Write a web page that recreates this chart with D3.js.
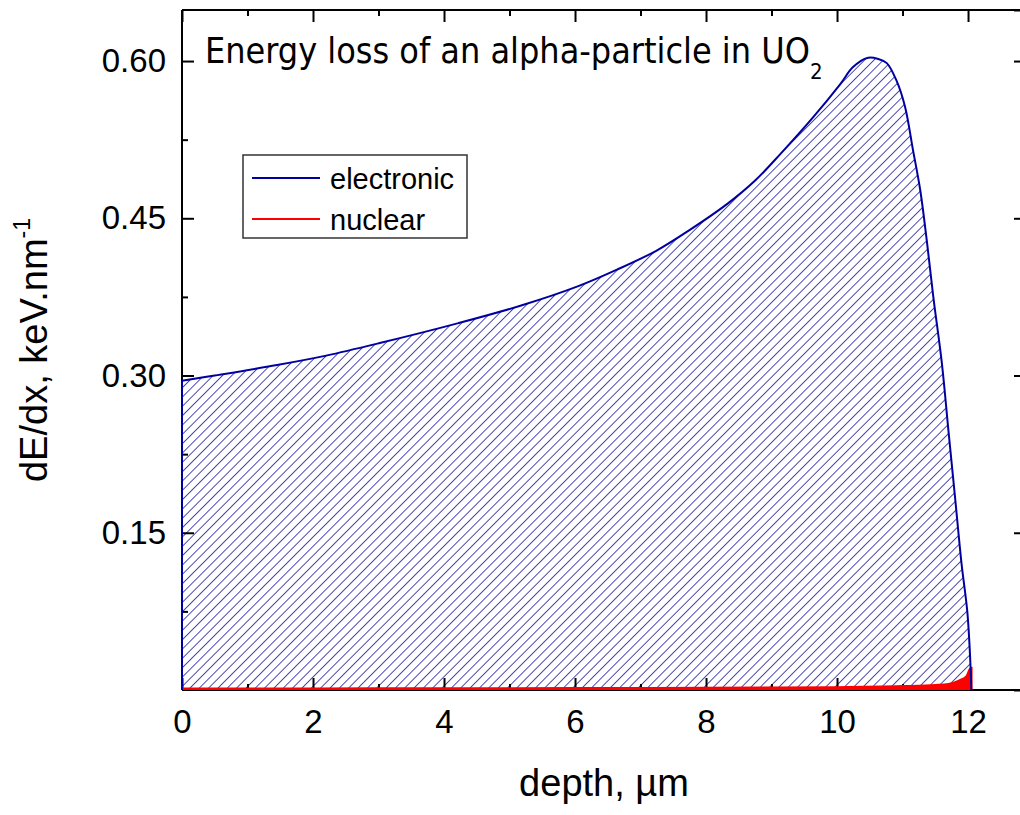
<!DOCTYPE html>
<html>
<head>
<meta charset="utf-8">
<script src="https://cdn.jsdelivr.net/npm/d3@7"></script>
<style>
  body { margin: 0; background: #fff; }
  svg { display: block; }
  .axis path, .axis line { stroke: #000; stroke-width: 2; }
  .axis text { font-family: "Liberation Sans", Arial, sans-serif; font-size: 33px; fill: #000; }
</style>
</head>
<body>
<div id="chart"></div>
<script>
// electronic stopping, keV/nm vs depth, um
const depthE = [0, 0.5, 1.45, 2.2, 3.02, 4.22, 5.19, 6.04, 6.64, 7.24, 7.73, 8.33, 8.75, 9.13, 9.63,
  10.05, 10.24, 10.46, 10.63, 10.76, 10.91, 11.04, 11.16, 11.27, 11.37, 11.47, 11.6, 11.7, 11.8,
  11.9, 11.99, 12.04, 12.05];
const electronic = [0.295, 0.300, 0.310, 0.319, 0.331, 0.350, 0.367, 0.385, 0.401, 0.419, 0.438, 0.464,
  0.486, 0.511, 0.546, 0.578, 0.594, 0.603, 0.602, 0.598, 0.581, 0.556, 0.515, 0.477, 0.429, 0.375,
  0.312, 0.248, 0.185, 0.121, 0.074, 0.020, 0];

// nuclear stopping
const depthN = [0, 2, 4, 6, 8, 10, 11, 11.5, 11.7, 11.87, 11.98, 12.03, 12.05, 12.05];
const nuclear = [0.0012, 0.0013, 0.0014, 0.0016, 0.0019, 0.0025, 0.0035, 0.0045, 0.0055, 0.009, 0.013, 0.020, 0.021, 0];

const xTicks = [0, 2, 4, 6, 8, 10, 12];
const xMinor = [1, 3, 5, 7, 9, 11];
const yTicks = [0.15, 0.30, 0.45, 0.60];
const yMinor = [0.075, 0.225, 0.375, 0.525];

const width = 1020, height = 815;
const plotL = 182, plotR = 1026, plotT = 10, plotB = 690;

const x = d3.scaleLinear().domain([0, 12.885]).range([plotL, plotR]);
const y = d3.scaleLinear().domain([0, 0.6487]).range([plotB, plotT]);

const svg = d3.select("#chart").append("svg")
  .attr("width", width)
  .attr("height", height);

const defs = svg.append("defs");
defs.append("pattern")
  .attr("id", "hatch")
  .attr("patternUnits", "userSpaceOnUse")
  .attr("width", 6.6)
  .attr("height", 10)
  .attr("patternTransform", "rotate(45)")
  .append("line")
  .attr("x1", 0).attr("y1", 0)
  .attr("x2", 0).attr("y2", 10)
  .attr("stroke", "#000096")
  .attr("stroke-width", 1.4);

const eData = depthE.map((d, i) => [d, electronic[i]]);
const nData = depthN.map((d, i) => [d, nuclear[i]]);

const smooth = d3.curveCatmullRom.alpha(0.5);

const areaE = d3.area()
  .x(d => x(d[0]))
  .y0(y(0))
  .y1(d => y(d[1]))
  .curve(smooth);

const lineE = d3.line()
  .x(d => x(d[0]))
  .y(d => y(d[1]))
  .curve(smooth);

const areaN = d3.area()
  .x(d => x(d[0]))
  .y0(y(0))
  .y1(d => y(d[1]))
  .curve(d3.curveMonotoneX);

const lineN = d3.line()
  .x(d => x(d[0]))
  .y(d => y(d[1]))
  .curve(d3.curveMonotoneX);

svg.append("path")
  .datum(eData)
  .attr("d", areaE)
  .attr("fill", "url(#hatch)");

// axes
const gx = svg.append("g").attr("class", "axis")
  .attr("transform", `translate(0,${plotB})`)
  .call(d3.axisBottom(x).tickValues(xTicks).tickSize(-12).tickPadding(20).tickFormat(d3.format("d")));
gx.select(".domain").attr("d", `M${plotL},0H${width + 10}`);

svg.append("g").attr("class", "axis")
  .attr("transform", `translate(0,${plotB})`)
  .call(d3.axisBottom(x).tickValues(xMinor).tickSize(-6).tickFormat(""))
  .select(".domain").remove();

const gy = svg.append("g").attr("class", "axis")
  .attr("transform", `translate(${plotL},0)`)
  .call(d3.axisLeft(y).tickValues(yTicks).tickSize(-12).tickPadding(16).tickFormat(d3.format(".2f")));
gy.select(".domain").attr("d", `M0,${plotT}V${plotB}`);

svg.append("g").attr("class", "axis")
  .attr("transform", `translate(${plotL},0)`)
  .call(d3.axisLeft(y).tickValues(yMinor).tickSize(-6).tickFormat(""))
  .select(".domain").remove();

const gt = svg.append("g").attr("class", "axis")
  .attr("transform", `translate(0,${plotT})`)
  .call(d3.axisTop(x).tickValues(xTicks).tickSize(-12).tickFormat(""));
gt.select(".domain").attr("d", `M${plotL},0H${width + 10}`);

svg.append("g").attr("class", "axis")
  .attr("transform", `translate(0,${plotT})`)
  .call(d3.axisTop(x).tickValues(xMinor).tickSize(-6).tickFormat(""))
  .select(".domain").remove();

svg.append("g").attr("class", "axis")
  .attr("transform", `translate(${plotR},0)`)
  .call(d3.axisRight(y).tickValues(yTicks).tickSize(-12).tickFormat(""));

svg.append("g").attr("class", "axis")
  .attr("transform", `translate(${plotR},0)`)
  .call(d3.axisRight(y).tickValues(yMinor).tickSize(-6).tickFormat(""))
  .select(".domain").remove();

// data outlines on top
svg.append("path")
  .datum(nData)
  .attr("d", areaN)
  .attr("fill", "#ff0000");

svg.append("path")
  .datum(nData)
  .attr("d", lineN)
  .attr("fill", "none")
  .attr("stroke", "#ff0000")
  .attr("stroke-width", 2.5);

svg.append("line")
  .attr("x1", x(0)).attr("x2", x(0))
  .attr("y1", y(0)).attr("y2", y(electronic[0]))
  .attr("stroke", "#0000a0")
  .attr("stroke-width", 2);

svg.append("path")
  .datum(eData)
  .attr("d", lineE)
  .attr("fill", "none")
  .attr("stroke", "#0000a0")
  .attr("stroke-width", 2);

// title
const title = svg.append("text")
  .attr("x", 205)
  .attr("y", 63)
  .style("font-family", "'DejaVu Sans Condensed', 'DejaVu Sans', sans-serif")
  .style("font-size", "36px");
title.append("tspan").text("Energy loss of an alpha-particle in UO");
const tw = title.node().getComputedTextLength();
const fs = 36 * 605 / tw;
title.style("font-size", fs + "px");
title.append("tspan")
  .attr("dy", 16)
  .style("font-size", (fs * 0.62) + "px")
  .text("2");

// axis titles
svg.append("text")
  .attr("x", (plotL + plotR) / 2)
  .attr("y", 796)
  .attr("text-anchor", "middle")
  .style("font-family", "'Liberation Sans', Arial, sans-serif")
  .style("font-size", "38px")
  .text("depth, µm");

const yt = svg.append("text")
  .attr("transform", `translate(47,${(plotT + plotB) / 2}) rotate(-90)`)
  .attr("text-anchor", "middle")
  .style("font-family", "'Liberation Sans', Arial, sans-serif")
  .style("font-size", "38px");
yt.append("tspan").text("dE/dx, keV.nm");
yt.append("tspan").attr("dy", -17).style("font-size", "23px").text("-1");

// legend
const legendItems = [
  { label: "electronic", color: "#0000a0" },
  { label: "nuclear", color: "#ff0000" }
];
const lg = svg.append("g");
lg.append("rect")
  .attr("x", 243).attr("y", 155)
  .attr("width", 224).attr("height", 83)
  .attr("fill", "#fff")
  .attr("stroke", "#333")
  .attr("stroke-width", 1.5);
legendItems.forEach((d, i) => {
  const cy = 178 + i * 41;
  lg.append("line")
    .attr("x1", 252).attr("x2", 320)
    .attr("y1", cy).attr("y2", cy)
    .attr("stroke", d.color)
    .attr("stroke-width", 2);
  lg.append("text")
    .attr("x", 330).attr("y", cy + 10.5)
    .style("font-family", "'Liberation Sans', Arial, sans-serif")
    .style("font-size", "29px")
    .text(d.label);
});
</script>
</body>
</html>
